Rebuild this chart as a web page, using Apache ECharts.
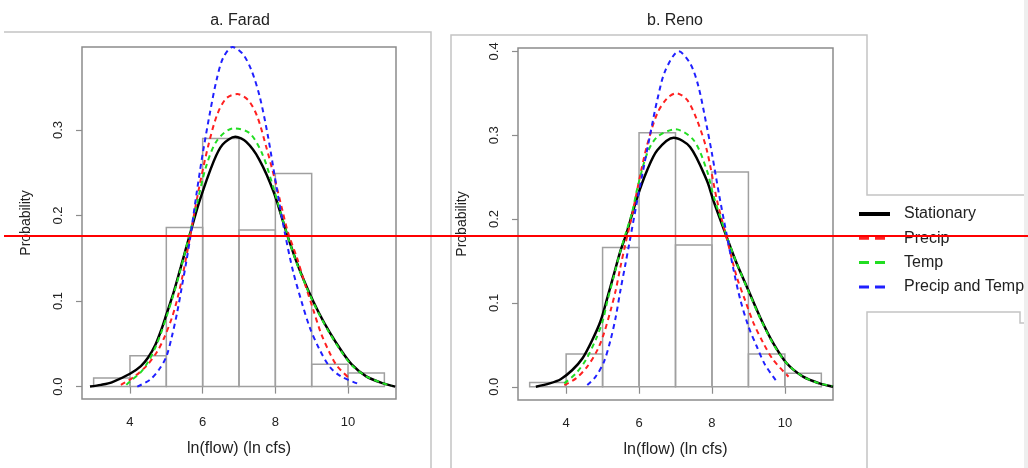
<!DOCTYPE html>
<html>
<head>
<meta charset="utf-8">
<script src="https://cdn.jsdelivr.net/npm/echarts@6/dist/echarts.min.js"></script>
<style>
html,body{margin:0;padding:0;background:#fff;}
#chart{width:1028px;height:468px;}
</style>
</head>
<body>
<div id="chart"></div>
<script>
// ---- data ----
const panelTitles = ['a. Farad', 'b. Reno'];
const seriesNames = ['Stationary', 'Precip', 'Temp', 'Precip and Temp'];
const xTicks = [4, 6, 8, 10];
const yTicksFarad = [0, 0.1, 0.2, 0.3];
const yTicksReno = [0, 0.1, 0.2, 0.3, 0.4];
const binEdges = [3, 4, 5, 6, 7, 8, 9, 10, 11];
const faradHist = [0.010, 0.036, 0.186, 0.290, 0.183, 0.249, 0.026, 0.016];
const renoHist = [0.005, 0.039, 0.166, 0.303, 0.169, 0.256, 0.039, 0.016];

const faradStationary = [[2.9,0.000],[3.2,0.002],[3.5,0.005],[4.0,0.015],[4.3,0.024],[4.5,0.034],[4.7,0.049],[4.85,0.065],[5.0,0.084],[5.2,0.110],[5.4,0.140],[5.65,0.178],[5.9,0.215],[6.3,0.263],[6.55,0.283],[6.9,0.292],[7.2,0.286],[7.55,0.266],[7.95,0.228],[8.3,0.181],[8.6,0.144],[8.9,0.113],[9.2,0.086],[9.5,0.063],[9.8,0.043],[10.1,0.026],[10.5,0.012],[10.95,0.004],[11.3,0.000]];
const faradPrecip = [[3.75,0.002],[4.1,0.011],[4.45,0.024],[4.75,0.041],[4.95,0.058],[5.15,0.080],[5.3,0.102],[5.45,0.130],[5.6,0.163],[5.9,0.232],[6.15,0.281],[6.4,0.318],[6.65,0.337],[6.95,0.342],[7.25,0.335],[7.5,0.316],[7.75,0.280],[8.0,0.240],[8.2,0.205],[8.35,0.180],[8.6,0.150],[8.8,0.122],[9.05,0.089],[9.25,0.063],[9.5,0.039],[9.7,0.024],[10.0,0.011]];
const faradTemp = [[3.9,0.002],[4.0,0.006],[4.3,0.017],[4.5,0.029],[4.7,0.046],[4.85,0.062],[5.0,0.081],[5.2,0.108],[5.4,0.138],[5.65,0.180],[5.85,0.215],[6.1,0.258],[6.4,0.288],[6.85,0.302],[7.3,0.296],[7.65,0.271],[7.95,0.232],[8.3,0.181],[8.6,0.143],[8.9,0.112],[9.2,0.085],[9.5,0.062],[9.8,0.042],[10.1,0.025],[10.5,0.012],[10.95,0.004],[11.2,0.001]];
const faradBoth = [[4.2,0.000],[4.55,0.008],[4.8,0.020],[5.0,0.035],[5.15,0.058],[5.3,0.087],[5.42,0.115],[5.55,0.146],[5.65,0.172],[5.83,0.225],[6.0,0.272],[6.2,0.320],[6.38,0.358],[6.56,0.384],[6.82,0.397],[7.1,0.389],[7.34,0.370],[7.57,0.339],[7.8,0.292],[8.03,0.234],[8.26,0.180],[8.48,0.136],[8.71,0.101],[8.94,0.070],[9.22,0.043],[9.5,0.023],[9.8,0.012],[10.3,0.003]];

const renoStationary = [[3.17,0.000],[3.55,0.004],[3.85,0.009],[4.17,0.020],[4.45,0.034],[4.72,0.056],[4.95,0.079],[5.13,0.106],[5.31,0.134],[5.49,0.162],[5.65,0.182],[5.95,0.226],[6.22,0.258],[6.5,0.282],[6.95,0.297],[7.4,0.286],[7.86,0.246],[8.04,0.222],[8.4,0.179],[8.68,0.147],[9.0,0.115],[9.32,0.083],[9.68,0.052],[10.05,0.028],[10.5,0.012],[10.95,0.004],[11.32,0.000]];
const renoPrecip = [[3.95,0.002],[4.27,0.010],[4.58,0.024],[4.86,0.044],[5.04,0.064],[5.22,0.091],[5.36,0.115],[5.49,0.143],[5.61,0.167],[5.81,0.205],[6.04,0.254],[6.22,0.288],[6.5,0.326],[6.77,0.344],[7.02,0.350],[7.32,0.342],[7.59,0.318],[7.86,0.282],[8.14,0.222],[8.4,0.178],[8.68,0.131],[8.91,0.103],[9.14,0.076],[9.41,0.052],[9.68,0.032],[10.1,0.012]];
const renoTemp = [[3.95,0.004],[4.27,0.016],[4.54,0.032],[4.81,0.056],[5.0,0.078],[5.13,0.102],[5.31,0.132],[5.49,0.162],[5.65,0.185],[5.81,0.208],[5.95,0.236],[6.22,0.278],[6.5,0.298],[7.0,0.307],[7.5,0.294],[7.86,0.258],[8.04,0.228],[8.4,0.180],[8.68,0.147],[9.0,0.114],[9.32,0.082],[9.68,0.051],[10.05,0.028],[10.5,0.012],[10.95,0.004],[11.3,0.001]];
const renoBoth = [[4.58,0.002],[4.81,0.012],[5.04,0.030],[5.22,0.056],[5.36,0.083],[5.49,0.115],[5.63,0.147],[5.72,0.168],[5.95,0.222],[6.13,0.262],[6.31,0.302],[6.5,0.342],[6.72,0.377],[7.09,0.400],[7.41,0.385],[7.63,0.358],[7.86,0.310],[8.0,0.278],[8.2,0.228],[8.41,0.180],[8.59,0.140],[8.77,0.105],[9.0,0.072],[9.23,0.048],[9.46,0.026],[9.78,0.006]];

// ---- styling ----
const FONT = "'Liberation Sans', Arial, sans-serif";
const TXT = '#222';
const FRAME = '#8c8c8c';
const colors = {Stationary:'#000000', Precip:'#ff2020', Temp:'#22dd22', 'Precip and Temp':'#2020ff'};
const DASH = [5, 4];

function histData(vals){
  return vals.map((v,i)=>[binEdges[i], binEdges[i+1], v]);
}
function histSeries(vals, idx){
  return {
    type:'custom', xAxisIndex:idx, yAxisIndex:idx, z:1, silent:true,
    data: histData(vals),
    renderItem: function(params, api){
      const p1 = api.coord([api.value(0), api.value(2)]);
      const p2 = api.coord([api.value(1), 0]);
      return {type:'rect', shape:{x:p1[0], y:p1[1], width:p2[0]-p1[0], height:p2[1]-p1[1]},
        style:{fill:'none', stroke:'#a0a0a0', lineWidth:1.5}};
    }
  };
}
function curve(name, data, idx){
  const solid = name === 'Stationary';
  return {
    type:'line', name:name, xAxisIndex:idx, yAxisIndex:idx, z:3, data:data,
    symbol:'none', smooth:0.3, silent:true,
    lineStyle:{color:colors[name], width: solid ? 2.5 : 2, type: solid ? 'solid' : DASH},
    itemStyle:{color:colors[name]}
  };
}
function xAxis(idx){
  return {
    type:'value', gridIndex:idx, min:2.68, max:11.32,
    axisLine:{show:false}, splitLine:{show:false},
    axisTick:{show:true, customValues:xTicks, length:7, lineStyle:{color:FRAME, width:1.2}},
    axisLabel:{customValues:xTicks, margin:17, fontSize:13, color:TXT, fontFamily:FONT},
    name:'ln(flow) (ln cfs)', nameLocation:'middle', nameGap:42,
    nameTextStyle:{fontSize:16, color:TXT, fontFamily:FONT}
  };
}
function yAxis(idx, ticks, min, max){
  return {
    type:'value', gridIndex:idx, min:min, max:max,
    axisLine:{show:false}, splitLine:{show:false},
    axisTick:{show:true, customValues:ticks, length:6, lineStyle:{color:FRAME, width:1.2}},
    axisLabel:{customValues:ticks, rotate:90, margin:17, fontSize:13, color:TXT, fontFamily:FONT,
      formatter:(v)=>v.toFixed(1)},
    name:'Probability', nameLocation:'middle', nameGap:49,
    nameTextStyle:{fontSize:14, color:TXT, fontFamily:FONT}
  };
}
function legendItem(name, width, type){
  return {name:name, itemStyle:{opacity:0, borderWidth:0},
          lineStyle:{color:colors[name], width:width, type:type, opacity:1}};
}

const chart = echarts.init(document.getElementById('chart'), null, {renderer:'canvas'});
const option = {
  backgroundColor:'#ffffff',
  animation:false,
  textStyle:{fontFamily:FONT},
  title:[
    {text:panelTitles[0], left:240, top:13, textAlign:'center', padding:0,
     textStyle:{fontSize:16, fontWeight:'normal', color:TXT, fontFamily:FONT}},
    {text:panelTitles[1], left:675, top:13, textAlign:'center', padding:0,
     textStyle:{fontSize:16, fontWeight:'normal', color:TXT, fontFamily:FONT}}
  ],
  legend:{
    orient:'vertical', left:857, top:206, itemWidth:31, itemHeight:14, itemGap:8.3,
    selectedMode:false, padding:0,
    textStyle:{fontSize:16, color:TXT, fontFamily:FONT, padding:[0,0,0,9]},
    data:[
      legendItem('Stationary', 4, 'solid'),
      legendItem('Precip', 3, [10,6]),
      legendItem('Temp', 3, [10,6]),
      legendItem('Precip and Temp', 3, [10,6])
    ]
  },
  grid:[
    {left:82, top:47, width:314, height:352, show:true, borderColor:FRAME, borderWidth:1.5, backgroundColor:'transparent'},
    {left:518, top:48, width:315, height:352, show:true, borderColor:FRAME, borderWidth:1.5, backgroundColor:'transparent'}
  ],
  xAxis:[xAxis(0), xAxis(1)],
  yAxis:[yAxis(0, yTicksFarad, -0.0145, 0.397), yAxis(1, yTicksReno, -0.0158, 0.404)],
  series:[
    histSeries(faradHist, 0),
    histSeries(renoHist, 1),
    curve('Stationary', faradStationary, 0),
    curve('Precip', faradPrecip, 0),
    curve('Temp', faradTemp, 0),
    curve('Precip and Temp', faradBoth, 0),
    curve('Stationary', renoStationary, 1),
    curve('Precip', renoPrecip, 1),
    curve('Temp', renoTemp, 1),
    curve('Precip and Temp', renoBoth, 1)
  ],
  graphic:[
    {type:'rect', shape:{x:1024, y:0, width:4, height:468}, style:{fill:'#eeeeee'}, z:0, silent:true},
    {type:'polyline', shape:{points:[[4,32],[431,32],[431,468]]}, style:{stroke:'#c4c4c4', lineWidth:1.5, fill:null}, silent:true},
    {type:'polyline', shape:{points:[[451,468],[451,35],[867,35],[867,195],[1024,195]]}, style:{stroke:'#c4c4c4', lineWidth:1.5, fill:null}, silent:true},
    {type:'polyline', shape:{points:[[867,468],[867,312],[1020,312],[1020,323],[1024,323]]}, style:{stroke:'#c4c4c4', lineWidth:1.5, fill:null}, silent:true},
    {type:'line', shape:{x1:4, y1:236, x2:1028, y2:236}, style:{stroke:'#ff0000', lineWidth:2}, z:100, silent:true}
  ]
};
chart.setOption(option);
</script>
</body>
</html>
